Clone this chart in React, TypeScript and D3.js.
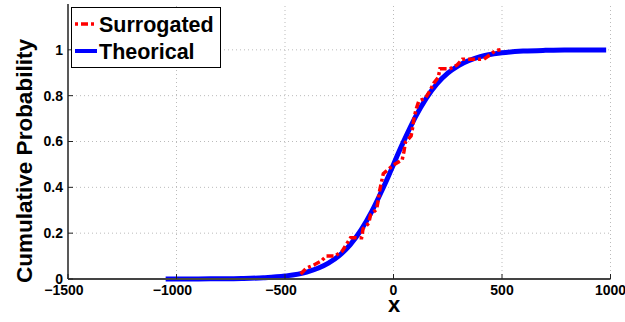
import React from "react";
import * as d3 from "d3";

const xTicks = [-1500, -1000, -500, 0, 500, 1000];
const yTicks = [0, 0.2, 0.4, 0.6, 0.8, 1];

const theoX = [-1050, -900, -800, -700, -600, -500, -400, -300, -250, -200, -150, -100, -50, -25, 0, 25, 50, 100, 150, 200, 250, 300, 400, 500, 600, 700, 800, 900, 980];
const theoY = [0.0001, 0.0004, 0.001, 0.0023, 0.0054, 0.0128, 0.03, 0.069, 0.102, 0.149, 0.213, 0.295, 0.393, 0.445, 0.5, 0.555, 0.607, 0.705, 0.787, 0.851, 0.898, 0.931, 0.97, 0.987, 0.9946, 0.9977, 0.999, 0.9996, 0.9998];

const surX = [-428, -402, -367, -332, -310, -270, -236, -198, -147, -140, -114, -106, -78, -70, -64, -47, -22, 1, 40, 48, 55, 81, 89, 94, 104, 117, 147, 167, 186, 206, 214, 260, 293, 317, 367, 416, 444, 470, 493];
const surY = [0.022, 0.047, 0.061, 0.079, 0.1, 0.1, 0.122, 0.18, 0.18, 0.22, 0.243, 0.28, 0.304, 0.345, 0.385, 0.46, 0.48, 0.498, 0.52, 0.556, 0.597, 0.624, 0.665, 0.7, 0.74, 0.777, 0.789, 0.82, 0.855, 0.879, 0.917, 0.917, 0.934, 0.959, 0.959, 0.959, 0.978, 0.997, 1.0];

const FONT = "'Liberation Sans', Arial, Helvetica, sans-serif";

export default function App() {
  const W = 625, H = 322;
  const x = d3.scaleLinear().domain([-1500, 1000]).range([68, 610.5]);
  const y = d3.scaleLinear().domain([0, 1.2]).range([279, 4]);

  const line = d3.line<[number, number]>().x(d => x(d[0])).y(d => y(d[1])).curve(d3.curveMonotoneX);
  const surLine = d3.line<[number, number]>().x(d => x(d[0])).y(d => y(d[1]));
  const theoPts = theoX.map((v, i) => [v, theoY[i]] as [number, number]);
  const surPts = surX.map((v, i) => [v, surY[i]] as [number, number]);

  return (
    <svg width={W} height={H} style={{ position: "absolute", left: 0, top: 0, background: "#fff" }}>
      <rect x={0} y={0} width={W} height={H} fill="#fff" />
      {/* grid */}
      {xTicks.slice(1).map(t => (
        <line key={"gx" + t} x1={x(t)} x2={x(t)} y1={y(0)} y2={y(1.2)} stroke="#bbb" strokeWidth={1} strokeDasharray="1,3" />
      ))}
      {yTicks.slice(1).map(t => (
        <line key={"gy" + t} x1={x(-1500)} x2={x(1000)} y1={y(t)} y2={y(t)} stroke="#bbb" strokeWidth={1} strokeDasharray="1,3" />
      ))}
      {/* data */}
      <path d={line(theoPts) || ""} fill="none" stroke="#0000ff" strokeWidth={5} strokeLinejoin="round" />
      <path d={surLine(surPts) || ""} fill="none" stroke="#ff0000" strokeWidth={3.5} strokeDasharray="7,3,3,3" />
      {/* axes */}
      <line x1={x(-1500)} x2={x(-1500)} y1={y(0)} y2={y(1.2)} stroke="#222" strokeWidth={1.5} />
      <line x1={x(-1500)} x2={x(1000)} y1={y(0)} y2={y(0)} stroke="#444" strokeWidth={2} />
      {yTicks.map(t => (
        <g key={"yt" + t}>
          <line x1={x(-1500)} x2={x(-1500) + 5} y1={y(t)} y2={y(t)} stroke="#222" strokeWidth={1} />
          <text x={63} y={y(t)} dy="0.35em" textAnchor="end" fontFamily={FONT} fontWeight="bold" fontSize={14}>{t}</text>
        </g>
      ))}
      {xTicks.map(t => (
        <g key={"xt" + t}>
          <line x1={x(t)} x2={x(t)} y1={y(0)} y2={y(0) - 5} stroke="#222" strokeWidth={1} />
          <text x={x(t) - (t < 0 ? 4 : 0)} y={295} textAnchor="middle" fontFamily={FONT} fontWeight="bold" fontSize={14}>{t < 0 ? "\u2212" + Math.abs(t) : String(t)}</text>
        </g>
      ))}
      <text x={394} y={312} textAnchor="middle" fontFamily={FONT} fontWeight="bold" fontSize={22}>x</text>
      <text transform={`translate(32,161) rotate(-90)`} textAnchor="middle" fontFamily={FONT} fontWeight="bold" fontSize={22.5}>Cumulative Probability</text>
      {/* legend */}
      <rect x={71.5} y={7.5} width={149} height={60} fill="#fff" stroke="#000" strokeWidth={1} />
      <line x1={75} x2={97} y1={24} y2={24} stroke="#ff0000" strokeWidth={3.5} strokeDasharray="3,3,7,3" />
      <text x={99} y={24} dy="0.35em" fontFamily={FONT} fontWeight="bold" fontSize={21.5}>Surrogated</text>
      <line x1={75} x2={97} y1={51} y2={51} stroke="#0000ff" strokeWidth={4} />
      <text x={99} y={51} dy="0.35em" fontFamily={FONT} fontWeight="bold" fontSize={21.5}>Theorical</text>
    </svg>
  );
}
